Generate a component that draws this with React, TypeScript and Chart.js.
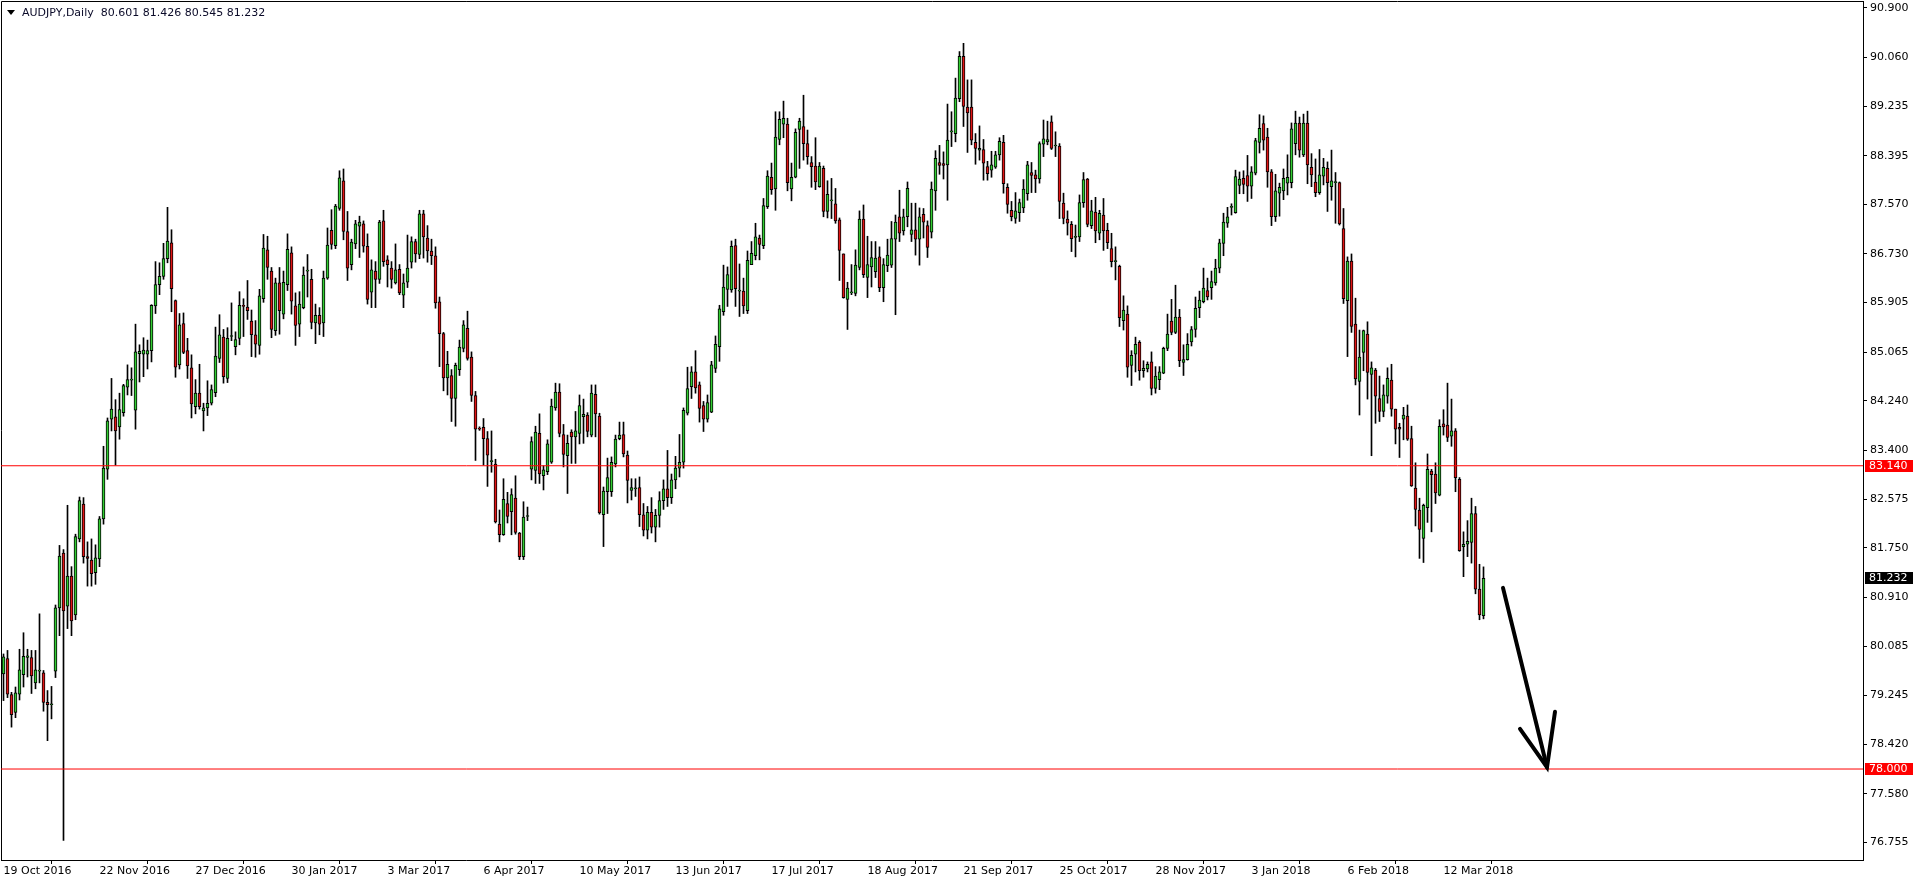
import React, { useEffect, useRef } from 'react';
import { Chart, registerables } from 'chart.js';

Chart.register(...registerables);

const headerText = 'AUDJPY,Daily  80.601 81.426 80.545 81.232';

const dateLabels = ['19 Oct 2016', '22 Nov 2016', '27 Dec 2016', '30 Jan 2017', '3 Mar 2017', '6 Apr 2017', '10 May 2017', '13 Jun 2017', '17 Jul 2017', '18 Aug 2017', '21 Sep 2017', '25 Oct 2017', '28 Nov 2017', '3 Jan 2018', '6 Feb 2018', '12 Mar 2018'];
const dateTickBars = [0, 24, 48, 72, 96, 120, 144, 168, 192, 216, 240, 264, 288, 312, 336, 360];

const yTickValues = [76.755, 77.58, 78.42, 79.245, 80.085, 80.91, 81.75, 82.575, 83.4, 84.24, 85.065, 85.905, 86.73, 87.57, 88.395, 89.235, 90.06, 90.9];
const yTickLabels = ['76.755', '77.580', '78.420', '79.245', '80.085', '80.910', '81.750', '82.575', '83.400', '84.240', '85.065', '85.905', '86.730', '87.570', '88.395', '89.235', '90.060', '90.900'];

const opens = [
  79.61, 79.87, 79.26, 78.96, 79.27, 79.60, 79.89, 79.89, 79.46, 79.66, 79.63, 79.13, 79.09, 79.66, 80.73, 81.66, 80.76, 81.27, 80.61, 81.90,
  82.49, 81.60, 81.54, 81.33, 81.56, 82.24, 83.08, 83.93, 83.97, 83.80, 84.04, 84.47, 84.59, 84.08, 85.04, 85.03, 85.03, 85.09, 85.85, 86.21,
  86.35, 86.65, 86.92, 85.94, 84.85, 85.55, 85.09, 84.80, 84.14, 84.37, 84.07, 84.12, 84.20, 84.38, 84.96, 85.32, 84.62, 85.33, 85.16, 85.30,
  85.85, 85.83, 85.59, 85.36, 85.18, 85.97, 86.80, 86.44, 85.43, 86.24, 85.71, 86.21, 86.75, 85.85, 85.54, 85.82, 86.44, 86.30, 85.56, 85.69,
  85.56, 86.32, 87.13, 86.87, 87.50, 87.97, 87.11, 86.55, 86.90, 87.20, 87.24, 86.86, 86.08, 86.44, 86.30, 87.29, 86.63, 86.49, 86.24, 86.47,
  86.03, 86.25, 86.59, 86.94, 86.72, 87.41, 87.00, 86.78, 86.70, 85.92, 85.38, 84.63, 84.67, 84.28, 84.77, 85.13, 85.47, 84.98, 84.33, 83.77,
  83.79, 83.60, 83.21, 83.17, 82.15, 81.97, 82.50, 82.36, 82.59, 82.00, 81.60, 82.28, 83.08, 83.06, 83.69, 82.97, 83.04, 83.20, 84.12, 84.39,
  83.67, 83.31, 83.71, 83.63, 83.69, 83.97, 84.00, 83.66, 84.35, 83.98, 82.31, 82.70, 82.70, 83.17, 83.60, 83.67, 83.32, 82.72, 82.75, 82.77,
  82.31, 82.05, 82.35, 82.10, 82.30, 82.55, 82.75, 82.60, 82.90, 83.10, 83.20, 84.03, 84.48, 84.73, 84.51, 84.16, 83.93, 84.05, 84.79, 85.16,
  85.75, 86.13, 86.12, 86.87, 86.10, 86.10, 85.77, 86.55, 86.70, 87.00, 86.87, 87.53, 88.03, 87.83, 88.67, 88.93, 88.93, 87.83, 88.03, 88.84,
  88.89, 88.60, 88.28, 88.22, 87.87, 88.18, 87.45, 87.63, 87.58, 87.31, 86.73, 85.96, 86.07, 86.06, 86.50, 87.32, 86.33, 86.51, 86.43, 86.68,
  86.16, 86.53, 86.54, 86.98, 87.36, 87.12, 87.36, 87.06, 87.14, 86.98, 87.40, 87.21, 87.10, 87.80, 88.28, 88.26, 88.24, 88.80, 88.77, 89.36,
  90.08, 89.22, 89.22, 88.62, 88.49, 88.50, 88.21, 88.15, 88.20, 88.41, 88.62, 87.86, 87.47, 87.33, 87.43, 87.51, 87.75, 88.11, 88.07, 88.00,
  88.59, 88.63, 88.97, 88.56, 88.56, 87.59, 87.32, 87.23, 87.01, 87.02, 87.60, 88.00, 87.21, 87.44, 87.08, 87.39, 87.13, 86.82, 86.60, 86.52,
  85.60, 85.71, 84.84, 85.03, 85.23, 84.75, 84.78, 84.90, 84.45, 84.60, 84.71, 85.13, 85.59, 85.40, 85.66, 84.89, 84.94, 85.24, 85.45, 85.82,
  85.92, 86.11, 86.16, 86.24, 86.49, 86.91, 87.25, 87.52, 87.43, 87.89, 88.01, 88.06, 87.88, 88.10, 88.62, 88.94, 88.71, 88.12, 87.36, 87.76,
  87.80, 87.93, 87.94, 88.60, 88.95, 88.41, 88.95, 88.20, 87.95, 87.77, 88.05, 88.18, 87.87, 87.94, 87.94, 87.16, 85.94, 86.61, 85.54, 84.57,
  85.06, 85.37, 84.69, 84.76, 84.28, 84.06, 84.32, 84.59, 84.10, 83.79, 83.93, 83.98, 83.60, 82.76, 82.39, 81.91, 82.43, 83.05, 83.00, 82.64,
  83.85, 83.83, 83.64, 83.73, 82.91, 81.77, 81.81, 81.84, 82.33, 81.05, 80.601
];
const highs = [
  79.95, 80.01, 79.30, 79.39, 80.03, 80.31, 80.03, 80.01, 80.01, 80.63, 79.67, 79.33, 79.40, 80.78, 81.79, 81.72, 82.47, 81.43, 81.98, 82.61,
  82.60, 81.85, 81.90, 81.80, 82.28, 83.47, 83.95, 84.62, 84.26, 84.37, 84.52, 84.85, 84.80, 85.54, 85.19, 85.31, 85.27, 85.87, 86.60, 86.58,
  86.91, 87.52, 87.14, 85.95, 85.72, 85.73, 85.30, 85.02, 84.60, 84.86, 84.20, 84.58, 84.51, 85.49, 85.70, 85.45, 85.48, 85.90, 85.41, 86.09,
  85.97, 86.28, 85.78, 85.60, 86.13, 87.06, 87.03, 86.50, 86.32, 86.50, 86.44, 87.07, 86.85, 86.07, 86.09, 86.51, 86.72, 86.47, 85.88, 85.82,
  86.44, 87.17, 87.48, 87.57, 88.14, 88.17, 87.45, 86.98, 87.30, 87.37, 87.29, 87.07, 86.63, 86.60, 87.30, 87.47, 86.70, 86.60, 86.90, 86.55,
  86.39, 87.05, 87.02, 86.98, 87.47, 87.47, 87.21, 86.98, 86.85, 86.00, 85.40, 85.08, 84.77, 84.88, 85.27, 85.60, 85.76, 85.07, 84.40, 83.80,
  83.94, 83.72, 83.73, 83.25, 82.39, 82.92, 82.69, 82.75, 82.97, 82.01, 82.53, 82.44, 83.63, 83.81, 84.02, 83.14, 83.58, 84.27, 84.54, 84.53,
  83.84, 83.66, 83.75, 84.06, 84.34, 84.27, 84.04, 84.51, 84.51, 84.03, 82.78, 83.27, 83.29, 83.66, 83.88, 83.88, 83.39, 82.92, 82.92, 82.95,
  82.50, 82.45, 82.60, 82.40, 82.70, 82.90, 83.40, 83.00, 83.30, 83.67, 84.12, 84.81, 84.82, 85.09, 84.56, 84.23, 84.34, 84.91, 85.34, 85.86,
  86.54, 86.51, 86.95, 86.98, 86.56, 86.32, 86.78, 86.94, 87.25, 87.05, 87.67, 88.14, 88.27, 89.14, 89.14, 89.32, 89.03, 88.27, 88.85, 89.03,
  89.42, 88.83, 88.38, 88.70, 88.28, 88.22, 87.97, 88.01, 87.84, 87.34, 86.73, 86.25, 86.55, 86.80, 87.46, 87.56, 87.03, 86.94, 86.94, 86.85,
  86.65, 86.98, 87.28, 87.39, 87.81, 87.49, 87.95, 87.59, 87.59, 87.51, 87.50, 87.29, 87.95, 88.48, 88.57, 88.46, 89.27, 89.14, 89.71, 90.16,
  90.30, 89.68, 89.68, 88.77, 88.90, 88.67, 88.30, 88.47, 88.47, 88.70, 88.74, 87.92, 87.62, 87.77, 87.66, 87.99, 88.30, 88.28, 88.15, 88.63,
  89.00, 88.98, 89.07, 88.80, 88.60, 87.76, 87.46, 87.28, 87.22, 87.73, 88.11, 88.01, 87.64, 87.69, 87.47, 87.67, 87.25, 87.08, 86.85, 86.54,
  86.02, 85.85, 85.09, 85.32, 85.26, 84.92, 84.90, 85.07, 84.82, 84.82, 85.15, 85.71, 85.96, 86.20, 85.79, 85.19, 85.38, 85.50, 86.00, 86.10,
  86.49, 86.32, 86.44, 86.64, 86.98, 87.42, 87.52, 87.58, 88.15, 88.12, 88.14, 88.40, 88.21, 88.69, 89.09, 89.07, 88.86, 88.16, 88.08, 87.93,
  88.17, 88.41, 88.95, 89.15, 89.05, 89.10, 89.15, 88.43, 88.34, 88.50, 88.35, 88.29, 88.49, 88.11, 87.95, 87.50, 86.68, 86.73, 85.98, 85.44,
  85.44, 85.58, 84.90, 84.79, 84.66, 84.51, 84.80, 84.86, 84.10, 83.86, 84.13, 84.17, 83.81, 83.19, 82.59, 82.49, 83.34, 83.08, 83.19, 83.92,
  84.09, 84.54, 84.27, 83.77, 82.94, 82.02, 82.21, 82.59, 82.45, 81.47, 81.426
];
const lows = [
  79.16, 79.21, 78.71, 78.87, 79.17, 79.39, 79.56, 79.28, 79.36, 79.46, 78.98, 78.48, 78.85, 79.55, 80.26, 76.79, 80.38, 80.26, 80.53, 81.85,
  81.49, 81.10, 81.10, 81.13, 81.43, 82.15, 82.91, 83.73, 83.15, 83.59, 83.98, 84.34, 84.33, 83.76, 84.56, 84.65, 84.78, 84.90, 85.72, 86.04,
  86.30, 86.58, 85.75, 84.64, 84.78, 85.04, 84.62, 83.95, 84.02, 84.10, 83.73, 83.99, 84.17, 84.31, 84.89, 84.54, 84.55, 85.26, 85.02, 85.19,
  85.33, 85.62, 84.99, 84.98, 85.03, 85.91, 86.30, 85.31, 85.35, 85.37, 85.63, 86.11, 85.71, 85.18, 85.33, 85.80, 86.00, 85.46, 85.21, 85.36,
  85.33, 86.30, 86.81, 86.82, 87.47, 86.97, 86.28, 86.46, 86.82, 86.67, 86.76, 85.88, 85.82, 85.82, 86.23, 86.52, 86.17, 86.15, 86.22, 86.04,
  85.82, 86.16, 86.49, 86.59, 86.65, 86.66, 86.59, 86.55, 85.81, 84.82, 84.41, 84.34, 83.89, 83.81, 84.67, 85.07, 84.93, 84.23, 83.23, 83.74,
  83.15, 82.79, 83.03, 82.17, 81.85, 81.96, 82.17, 81.97, 81.98, 81.55, 81.55, 82.21, 82.90, 82.84, 82.84, 82.73, 82.99, 83.18, 84.08, 83.63,
  83.12, 82.67, 83.18, 83.18, 83.51, 83.52, 83.63, 83.63, 83.63, 82.32, 81.77, 82.33, 82.62, 83.12, 83.58, 83.29, 82.51, 82.56, 82.62, 82.11,
  81.95, 81.90, 82.00, 81.85, 82.10, 82.40, 82.45, 82.50, 82.75, 82.95, 83.10, 84.00, 84.28, 84.37, 83.88, 83.72, 83.88, 84.04, 84.72, 84.91,
  85.69, 85.84, 86.08, 85.84, 85.67, 85.72, 85.72, 86.55, 86.63, 86.63, 86.82, 87.50, 87.74, 87.47, 88.58, 88.70, 87.80, 87.63, 88.02, 88.18,
  88.32, 88.25, 87.86, 87.82, 87.86, 87.36, 87.34, 87.33, 87.25, 86.28, 85.98, 85.45, 86.04, 86.02, 86.46, 86.33, 85.99, 86.17, 86.33, 86.09,
  85.92, 86.43, 86.50, 85.70, 86.94, 87.05, 87.19, 86.94, 86.71, 86.54, 87.00, 86.67, 87.00, 87.47, 88.08, 88.00, 87.64, 88.55, 88.63, 89.31,
  88.89, 88.45, 88.58, 88.25, 88.32, 87.98, 87.98, 88.03, 88.18, 88.32, 87.76, 87.42, 87.29, 87.25, 87.28, 87.43, 87.64, 87.77, 87.77, 87.93,
  88.38, 88.58, 88.50, 88.38, 87.33, 87.24, 87.05, 86.77, 86.68, 86.94, 87.52, 87.19, 87.16, 86.92, 86.97, 86.79, 86.82, 86.51, 86.29, 85.50,
  85.44, 84.64, 84.50, 84.73, 84.59, 84.64, 84.73, 84.34, 84.37, 84.43, 84.70, 85.09, 85.36, 85.38, 84.82, 84.67, 84.93, 85.17, 85.32, 85.65,
  85.90, 85.95, 85.96, 86.20, 86.41, 86.70, 87.18, 87.39, 87.42, 87.75, 87.75, 87.62, 87.67, 88.07, 88.44, 88.49, 87.86, 87.21, 87.28, 87.37,
  87.65, 87.73, 87.85, 88.41, 88.37, 88.38, 87.92, 87.87, 87.70, 87.74, 87.90, 87.45, 87.64, 87.25, 87.22, 85.89, 84.99, 85.40, 84.51, 84.00,
  84.75, 84.27, 83.31, 83.86, 83.89, 83.97, 84.20, 83.98, 83.51, 83.28, 83.58, 83.57, 82.79, 82.12, 81.57, 81.50, 82.18, 82.02, 82.50, 82.63,
  83.66, 83.55, 83.47, 82.70, 81.69, 81.26, 81.60, 81.49, 80.97, 80.53, 80.545
];
const closes = [
  79.90, 79.27, 78.92, 79.29, 79.68, 79.91, 79.92, 79.58, 79.68, 79.67, 79.13, 79.09, 79.10, 80.73, 81.61, 80.68, 81.27, 80.51, 81.94, 82.55,
  81.60, 81.57, 81.31, 81.58, 82.24, 83.10, 83.90, 84.10, 83.73, 84.09, 84.50, 84.60, 84.60, 85.07, 85.08, 85.10, 85.09, 85.86, 86.21, 86.35,
  86.65, 86.95, 86.14, 84.81, 85.53, 85.06, 84.83, 84.19, 84.37, 84.14, 84.12, 84.20, 84.43, 85.00, 85.36, 84.65, 85.30, 85.34, 85.28, 85.86,
  85.84, 85.77, 85.36, 85.20, 86.02, 86.83, 86.50, 85.45, 86.24, 85.77, 86.25, 86.81, 85.93, 85.52, 85.88, 86.37, 86.45, 85.57, 85.69, 85.54,
  86.32, 86.88, 86.89, 87.54, 88.02, 87.11, 86.49, 86.93, 87.24, 87.27, 86.86, 85.96, 86.46, 86.30, 87.27, 86.60, 86.55, 86.30, 86.46, 86.07,
  86.24, 86.49, 86.94, 86.73, 87.41, 87.02, 86.78, 86.70, 85.90, 85.38, 84.63, 84.86, 84.28, 84.84, 85.15, 85.53, 84.96, 84.33, 83.76, 83.76,
  83.60, 83.32, 83.22, 82.19, 81.97, 82.57, 82.28, 82.65, 82.01, 81.60, 82.27, 82.28, 83.55, 83.71, 83.00, 83.07, 83.51, 84.15, 84.39, 83.69,
  83.33, 83.52, 83.63, 83.73, 84.16, 84.01, 83.72, 84.37, 84.02, 82.34, 82.71, 82.94, 83.20, 83.59, 83.66, 83.34, 82.89, 82.77, 82.75, 82.31,
  82.05, 82.35, 82.10, 82.30, 82.55, 82.75, 82.60, 82.90, 83.10, 83.20, 84.08, 84.45, 84.73, 84.46, 84.11, 83.93, 84.21, 84.85, 85.20, 85.80,
  86.17, 86.38, 86.86, 86.14, 86.10, 85.85, 86.62, 86.74, 87.02, 86.89, 87.55, 88.05, 87.82, 88.71, 89.01, 89.03, 87.94, 88.03, 88.79, 88.98,
  88.60, 88.38, 88.21, 87.95, 88.22, 87.45, 87.74, 87.63, 87.29, 86.79, 85.99, 86.15, 86.08, 86.54, 87.32, 86.38, 86.55, 86.67, 86.66, 86.16,
  86.55, 86.71, 86.99, 87.27, 87.08, 87.36, 87.84, 87.14, 86.98, 87.36, 87.27, 86.84, 87.83, 88.35, 88.23, 88.23, 88.66, 88.80, 89.37, 90.08,
  89.23, 89.12, 88.66, 88.52, 88.52, 88.27, 88.09, 88.24, 88.41, 88.64, 87.92, 87.57, 87.36, 87.46, 87.60, 87.83, 88.24, 88.06, 88.00, 88.60,
  88.68, 88.67, 88.52, 88.56, 87.62, 87.33, 87.25, 86.99, 87.01, 87.60, 87.99, 87.23, 87.46, 87.12, 87.42, 87.12, 86.92, 86.60, 86.60, 85.65,
  85.78, 84.81, 85.01, 85.20, 84.75, 84.79, 84.86, 84.45, 84.66, 84.73, 85.13, 85.37, 85.40, 85.66, 84.92, 84.94, 85.20, 85.45, 85.81, 85.95,
  86.15, 86.00, 86.26, 86.49, 86.92, 87.27, 87.36, 87.52, 88.04, 88.00, 87.91, 87.88, 88.12, 88.65, 88.86, 88.66, 88.12, 87.36, 87.80, 87.86,
  88.01, 88.03, 88.85, 88.95, 88.49, 88.95, 88.24, 88.07, 87.77, 88.07, 88.20, 87.94, 87.97, 87.94, 87.24, 85.97, 86.61, 85.50, 84.61, 84.98,
  85.43, 84.72, 84.80, 84.32, 84.06, 84.34, 84.62, 84.10, 83.76, 83.76, 84.00, 83.59, 82.80, 82.40, 82.06, 82.47, 83.08, 82.99, 82.68, 83.81,
  83.80, 83.62, 83.73, 82.94, 81.70, 81.81, 81.86, 82.33, 81.05, 80.61, 81.232
];

const levelPrices = [83.14, 78.0];
const levelLabels = ['83.140', '78.000'];
const lastPrice = 81.232;
const lastPriceLabel = '81.232';

const arrowShaftX = [374.875, 385.875];
const arrowShaftY = [81.07, 78.03];
const arrowHeadX = [379.125, 385.875, 387.875];
const arrowHeadY = [78.68, 78.03, 78.97];

const X_MIN = -0.625;
const X_MAX = 464.875;
const Y_MIN = 76.458;
const Y_MAX = 91.017;

const UP = '#32CD32';
const DOWN = '#E01515';
const FONT = 'DejaVu Sans';

export default function App() {
  const canvasRef = useRef<HTMLCanvasElement | null>(null);

  useEffect(() => {
    document.body.style.margin = '0';
    document.body.style.overflow = 'hidden';
    const canvas = canvasRef.current;
    if (!canvas) return;
    Chart.defaults.font.family = FONT;
    Chart.defaults.font.size = 11;
    Chart.defaults.color = '#000';

    const idx = opens.map((_, i) => i);

    const framePlugin = {
      id: 'frame',
      beforeDatasetsDraw(chart: any) {
        const { ctx, chartArea } = chart;
        ctx.save();
        ctx.strokeStyle = '#000';
        ctx.lineWidth = 1;
        ctx.beginPath();
        ctx.moveTo(chartArea.left + 0.5, chartArea.bottom);
        ctx.lineTo(chartArea.left + 0.5, chartArea.top + 0.5);
        ctx.lineTo(chartArea.right, chartArea.top + 0.5);
        ctx.stroke();
        ctx.restore();
      },
      afterDraw(chart: any) {
        const { ctx } = chart;
        const ys = chart.scales.y;
        const xRight = chart.chartArea.right;
        ctx.save();
        // header
        ctx.fillStyle = '#000';
        ctx.beginPath();
        ctx.moveTo(7, 10);
        ctx.lineTo(15, 10);
        ctx.lineTo(11, 15);
        ctx.closePath();
        ctx.fill();
        ctx.font = `11px "${FONT}"`;
        ctx.fillStyle = '#0a0a28';
        ctx.textBaseline = 'middle';
        ctx.textAlign = 'left';
        ctx.fillText(headerText, 22, 13);
        // level labels
        const drawBox = (price: number, label: string, bg: string) => {
          const y = ys.getPixelForValue(price);
          ctx.fillStyle = bg;
          ctx.fillRect(xRight + 2, Math.round(y) - 6, 48, 12);
          ctx.fillStyle = '#fff';
          ctx.fillText(label, xRight + 6, Math.round(y) + 0.5);
        };
        levelPrices.forEach((p, i) => drawBox(p, levelLabels[i], '#FF0000'));
        drawBox(lastPrice, lastPriceLabel, '#000');
        ctx.restore();
      },
    };

    const chart = new Chart(canvas, {
      type: 'bar',
      data: {
        datasets: [
          {
            type: 'bar',
            label: 'wick',
            data: idx.map((i) => ({ x: i, y: [lows[i], highs[i]] })) as any,
            backgroundColor: '#000',
            borderWidth: 0,
            barThickness: 1,
            grouped: false,
            order: 3,
          } as any,
          {
            type: 'bar',
            label: 'body',
            data: idx.map((i) => ({ x: i, y: [opens[i], closes[i]] })) as any,
            backgroundColor: idx.map((i) => (closes[i] >= opens[i] ? UP : DOWN)),
            borderColor: '#000',
            borderWidth: 1,
            borderSkipped: false,
            barThickness: 3,
            minBarLength: 1,
            grouped: false,
            order: 2,
          } as any,
          ...levelPrices.map((p) => ({
            type: 'line',
            label: 'level',
            data: [{ x: X_MIN, y: p }, { x: X_MAX, y: p }],
            borderColor: '#FF0000',
            borderWidth: 1,
            pointRadius: 0,
            order: 1,
          } as any)),
          {
            type: 'line',
            label: 'arrowShaft',
            data: arrowShaftX.map((x, i) => ({ x, y: arrowShaftY[i] })),
            borderColor: '#000',
            borderWidth: 4,
            borderCapStyle: 'round',
            pointRadius: 0,
            order: 0,
          } as any,
          {
            type: 'line',
            label: 'arrowHead',
            data: arrowHeadX.map((x, i) => ({ x, y: arrowHeadY[i] })),
            borderColor: '#000',
            borderWidth: 4,
            borderCapStyle: 'round',
            borderJoinStyle: 'miter',
            pointRadius: 0,
            order: 0,
          } as any,
        ],
      },
      options: {
        responsive: false,
        animation: false,
        devicePixelRatio: 1,
        layout: { padding: { left: 1, top: 1, right: 0, bottom: 0 } },
        plugins: { legend: { display: false }, tooltip: { enabled: false } },
        scales: {
          x: {
            type: 'linear',
            position: 'bottom',
            min: X_MIN,
            max: X_MAX,
            offset: false,
            grid: { display: true, drawOnChartArea: false, drawTicks: true, tickLength: 4, color: '#000', lineWidth: 1 },
            border: { display: true, color: '#000', width: 1 },
            ticks: {
              autoSkip: false,
              maxRotation: 0,
              minRotation: 0,
              align: 'start',
              padding: 1,
              color: '#000',
              font: { family: FONT, size: 11 },
              callback: (_v: any, i: number) => dateLabels[i],
            },
            afterBuildTicks: (scale: any) => {
              scale.ticks = dateTickBars.map((v) => ({ value: v }));
            },
            afterFit: (scale: any) => {
              scale.height = 24;
              scale.paddingLeft = 0;
              scale.paddingRight = 0;
            },
          } as any,
          y: {
            type: 'linear',
            position: 'right',
            min: Y_MIN,
            max: Y_MAX,
            grid: { display: true, drawOnChartArea: false, drawTicks: true, tickLength: 4, color: '#000', lineWidth: 1 },
            border: { display: true, color: '#000', width: 1 },
            ticks: {
              autoSkip: false,
              padding: 3,
              color: '#000',
              font: { family: FONT, size: 11 },
              callback: (_v: any, i: number) => yTickLabels[i],
            },
            afterBuildTicks: (scale: any) => {
              scale.ticks = yTickValues.map((v) => ({ value: v }));
            },
            afterFit: (scale: any) => {
              scale.width = 53;
              scale.paddingTop = 0;
              scale.paddingBottom = 0;
            },
          } as any,
        },
      },
      plugins: [framePlugin],
    });

    return () => chart.destroy();
  }, []);

  return (
    <div style={{ position: 'absolute', left: 0, top: 0, width: 1916, height: 884, background: '#fff' }}>
      <canvas ref={canvasRef} width={1916} height={884} style={{ display: 'block' }} />
    </div>
  );
}
